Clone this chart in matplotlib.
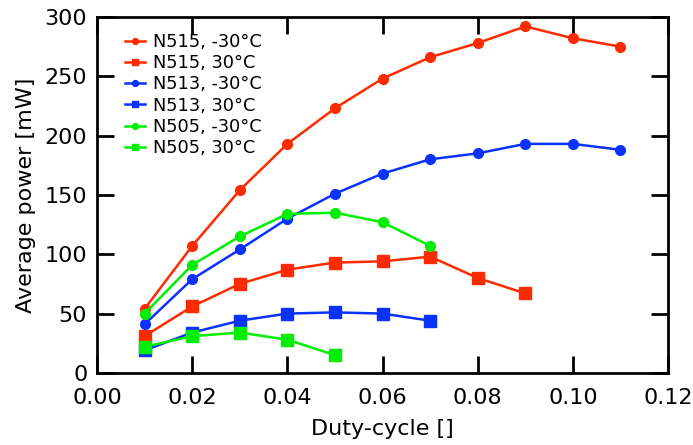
import matplotlib
matplotlib.use('Agg')
import matplotlib.pyplot as plt

plt.rcParams['font.family'] = 'DejaVu Sans'

duty = [0.01, 0.02, 0.03, 0.04, 0.05, 0.06, 0.07, 0.08, 0.09, 0.10, 0.11]

n515_cold = [54, 107, 154, 193, 223, 248, 266, 278, 292, 282, 275]
n515_hot = [31, 56, 75, 87, 93, 94, 98, 80, 67]
n513_cold = [41, 79, 104, 130, 151, 168, 180, 185, 193, 193, 188]
n513_hot = [19, 34, 44, 50, 51, 50, 44]
n505_cold = [50, 91, 115, 134, 135, 127, 107]
n505_hot = [22, 31, 34, 28, 15]

red = '#ff2a00'
blue = '#0a32ff'
green = '#00ee00'

fig = plt.figure(figsize=(6.93, 4.45), dpi=100)
ax = fig.add_axes([0.140, 0.162, 0.824, 0.800])

lw = 1.8
ax.plot(duty[:len(n515_cold)], n515_cold, color=red, marker='o', ms=7, lw=lw, label='N515, -30°C')
ax.plot(duty[:len(n515_hot)], n515_hot, color=red, marker='s', ms=8, lw=lw, label='N515, 30°C')
ax.plot(duty[:len(n513_cold)], n513_cold, color=blue, marker='o', ms=7, lw=lw, label='N513, -30°C')
ax.plot(duty[:len(n513_hot)], n513_hot, color=blue, marker='s', ms=8, lw=lw, label='N513, 30°C')
ax.plot(duty[:len(n505_cold)], n505_cold, color=green, marker='o', ms=7, lw=lw, label='N505, -30°C')
ax.plot(duty[:len(n505_hot)], n505_hot, color=green, marker='s', ms=8, lw=lw, label='N505, 30°C')

ax.set_xlim(0, 0.12)
ax.set_ylim(0, 300)
ax.set_xticks([0.00, 0.02, 0.04, 0.06, 0.08, 0.10, 0.12])
ax.set_xticklabels(['0.00', '0.02', '0.04', '0.06', '0.08', '0.10', '0.12'])
ax.set_yticks([0, 50, 100, 150, 200, 250, 300])
ax.tick_params(direction='in', length=12, width=2, top=True, right=True, labelsize=16)
ax.tick_params(axis='x', pad=11)
ax.tick_params(axis='y', pad=7)
for s in ax.spines.values():
    s.set_linewidth(2)

ax.set_xlabel('Duty-cycle []', fontsize=16, labelpad=8)
ax.set_ylabel('Average power [mW]', fontsize=16, labelpad=6)

leg = ax.legend(loc='upper left', bbox_to_anchor=(0.049, 0.955), fontsize=12.8, frameon=False,
                handlelength=1.15, markerscale=0.6, labelspacing=0.18, borderaxespad=0,
                borderpad=0, handletextpad=0.4)

fig.savefig('out.png', dpi=100)
